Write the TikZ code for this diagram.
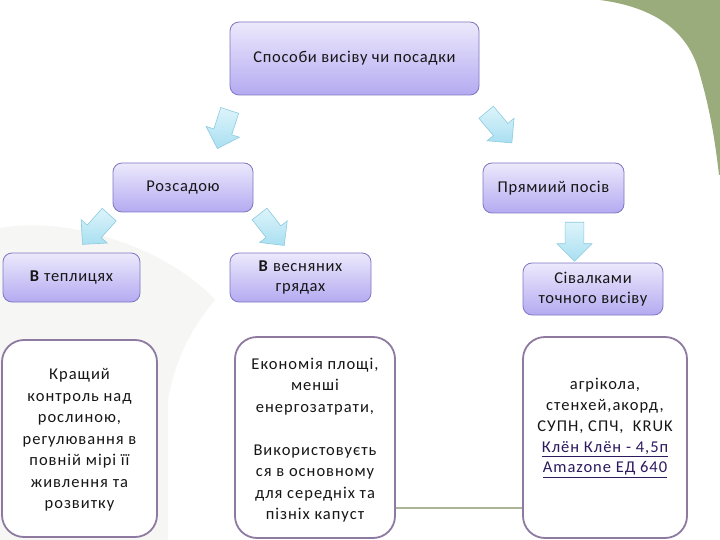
\documentclass[tikz,border=0pt]{standalone}
\usepackage{fontspec}
\setmainfont{Carlito}
\newfontfamily\lvfont[LetterSpace=4]{Carlito}
\newfontfamily\notefont[LetterSpace=6]{Carlito}
\usetikzlibrary{shapes.arrows}
\definecolor{boxtop}{HTML}{ECE9FC}
\definecolor{boxbot}{HTML}{B4AAF1}
\definecolor{boxline}{HTML}{7F77C2}
\definecolor{softline}{HTML}{8E7AA0}
\definecolor{arrtop}{HTML}{DDF4FB}
\definecolor{arrbot}{HTML}{A9DFF1}
\definecolor{arrline}{HTML}{8CCBE0}
\definecolor{leaf}{HTML}{9AAB7C}
\definecolor{linkc}{HTML}{2E1A5E}
\definecolor{txt}{HTML}{161616}
\definecolor{swoosh}{HTML}{F6F6F4}
\begin{document}
\begin{tikzpicture}[x=1pt,y=-1pt,
  lvbox/.style={rectangle, rounded corners=9pt, draw=boxline, line width=0.8pt,
    top color=boxtop, bottom color=boxbot, align=center, inner sep=2pt,
    font=\lvfont\fontsize{16.5}{20.5}\selectfont, text=txt},
  notebox/.style={rectangle, rounded corners=22pt, draw=softline, line width=1.8pt,
    fill=white, inner sep=0pt},
  notetext/.style={align=center, inner sep=0pt,
    font=\notefont\fontsize{16.5}{21.5}\selectfont, text=txt},
  barrow/.style={single arrow, draw=arrline, line width=0.6pt,
    top color=arrtop, bottom color=arrbot, minimum height=40pt,
    minimum width=35pt, inner sep=9pt, single arrow head extend=8pt}]
\useasboundingbox (0,0) rectangle (720,540);
\fill[white] (0,0) rectangle (720,540);
% background decoration
\fill[leaf] (600,0) .. controls (660,8) and (690,35) .. (700,75)
  .. controls (710,110) and (715,140) .. (719,175) -- (720,175) -- (720,0) -- cycle;
\fill[swoosh] (0,228) .. controls (70,215) and (170,250) .. (215,300)
  .. controls (190,330) and (175,360) .. (168,400) -- (168,540) -- (0,540) -- cycle;
% level boxes
\node[lvbox, minimum width=249pt, minimum height=73pt] (top) at (354.5,58.5) {Способи висіву чи посадки};
\node[lvbox, minimum width=140pt, minimum height=49pt] (roz) at (183,187.5) {Розсадою};
\node[lvbox, minimum width=141pt, minimum height=50pt] (pry) at (553.5,188) {Прямиий посів};
\node[lvbox, minimum width=137pt, minimum height=49pt] (tep) at (71.5,277.5) {\textbf{В} теплицях};
\node[lvbox, minimum width=141pt, minimum height=49pt] (ves) at (300.5,277.5) {\textbf{В} весняних\\грядах};
\node[lvbox, minimum width=140pt, minimum height=52pt] (siv) at (593,289) {Сівалками\\точного висіву};
% note boxes
\node[notebox, minimum width=155pt, minimum height=197pt] (n1) at (79.5,438.5) {};
\node[notebox, minimum width=160pt, minimum height=201pt] (n2) at (315,437.5) {};
\node[notebox, minimum width=164pt, minimum height=201pt] (n3) at (605,437.5) {};
\draw[leaf!80!gray, line width=2.5pt, opacity=0.8] (n2.east |- 0,508) -- (n3.west |- 0,508);
\node[notetext] (t1) at (79.5,440) {Кращий\\контроль над\\рослиною,\\регулювання в\\повній мірі її\\живлення та\\розвитку};
\node[notetext] (t2) at (315,440) {Економія площі,\\менші\\енергозатрати,\\[21.5pt]Використовуєть\\ся в основному\\для середніх та\\пізніх капуст};
\node[notetext, font=\notefont\fontsize{16.5}{20.8}\selectfont] (t3) at (605,428) {агрікола,\\стенхей,акорд,\\СУПН, СПЧ,\ \ KRUK\\{\color{linkc}\underline{Клён Клён - 4,5п}}\\{\color{linkc}\underline{Amazone ЕД 640}}};
% block arrows
\node[barrow, rotate=252] (a1) at (225,125) {};
\node[barrow, rotate=-50] (a2) at (496,124) {};
\node[barrow, rotate=228] (a3) at (99,226) {};
\node[barrow, rotate=-52] (a4) at (269,226) {};
\node[barrow, rotate=-90, minimum height=39pt] (a5) at (574.5,237) {};
\end{tikzpicture}
\end{document}
